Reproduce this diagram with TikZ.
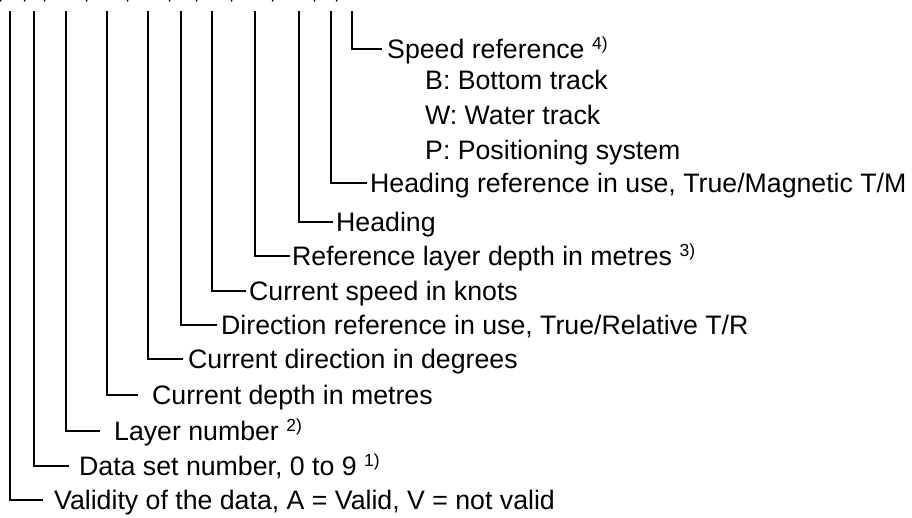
\documentclass[tikz,border=0pt]{standalone}
\usepackage{fontspec}
\setmainfont{Liberation Sans}
\newcommand\noteref[1]{\raisebox{8.5pt}{\fontsize{17.5}{17.5}\selectfont #1}}
\begin{document}
\begin{tikzpicture}[x=1pt,y=-1pt,
  lead/.style={line width=2pt},
  tail/.style={line width=1.3pt},
  field/.style={anchor=base west,inner sep=0pt,font=\fontsize{26.7}{30}\selectfont},
  option/.style={field}]
\useasboundingbox (0,0) rectangle (912,517);

% tails of the commas in the sentence line above
\foreach \cx in {1,25,45,87,128,170,197,232,273,315,337}
  \draw[tail] (\cx,-1) -- (\cx-0.6,1.6);

% top ends of the leader lines
\foreach \n/\lx in {a/10,b/34,c/66,d/107,e/148,f/181,g/212,h/255,i/299,j/331,k/352}
  \coordinate (top\n) at (\lx,11);

% corner ends of the leader lines
\coordinate (enda) at (43,500);
\coordinate (endb) at (69,466);
\coordinate (endc) at (100,431);
\coordinate (endd) at (138,395);
\coordinate (ende) at (183,359);
\coordinate (endf) at (217,325);
\coordinate (endg) at (246,291);
\coordinate (endh) at (290,256);
\coordinate (endi) at (333,222);
\coordinate (endj) at (367,183);
\coordinate (endk) at (382,49);

\foreach \n in {a,b,c,d,e,f,g,h,i,j,k}
  \draw[lead] (top\n) |- (end\n);

% field descriptions
\node[field] (la) at (54,509) {Validity of the data, A = Valid, V = not valid};
\node[field] (lb) at (79,475) {Data set number, 0 to 9 \noteref{1)}};
\node[field] (lc) at (114,440) {Layer number \noteref{2)}};
\node[field] (ld) at (152,404) {Current depth in metres};
\node[field] (le) at (188,368) {Current direction in degrees};
\node[field] (lf) at (221,334) {Direction reference in use, True/Relative T/R};
\node[field] (lg) at (249,300) {Current speed in knots};
\node[field] (lh) at (292,265) {Reference layer depth in metres \noteref{3)}};
\node[field] (li) at (336,231) {Heading};
\node[field] (lj) at (370,192) {Heading reference in use, True/Magnetic T/M};
\node[field] (lk) at (387,58) {Speed reference \noteref{4)}};

% speed reference options
\node[option] (ob) at (425,89) {B: Bottom track};
\node[option] (ow) at (425,124) {W: Water track};
\node[option] (op) at (425,159) {P: Positioning system};
\end{tikzpicture}
\end{document}
